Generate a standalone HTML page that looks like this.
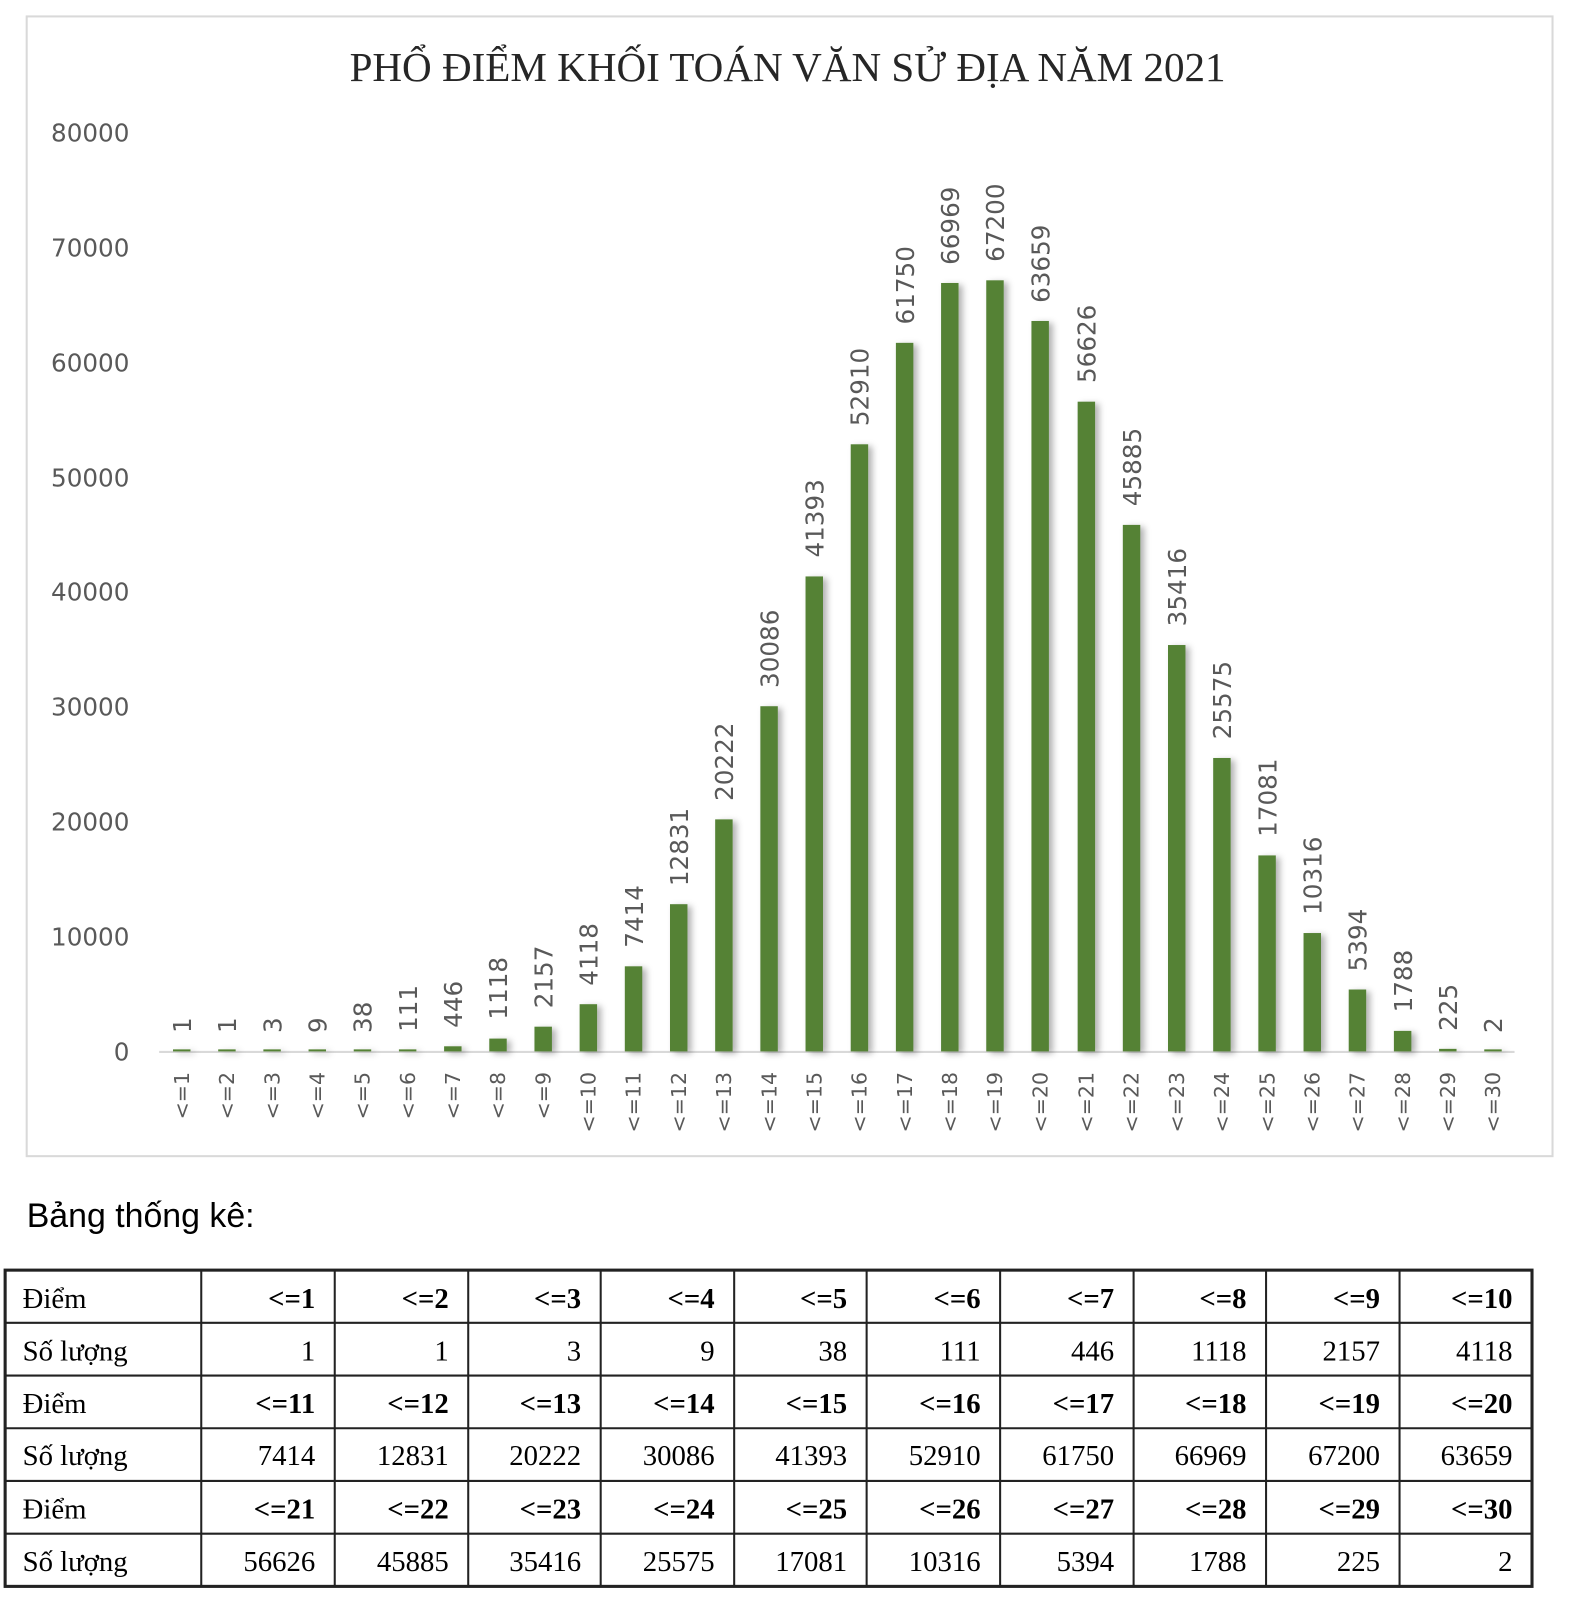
<!DOCTYPE html>
<html><head><meta charset="utf-8"><style>html,body{margin:0;padding:0;background:#fff}svg{display:block}</style></head>
<body>
<svg width="1570" height="1610" viewBox="0 0 1529 1568" preserveAspectRatio="none" xmlns="http://www.w3.org/2000/svg">
<defs><filter id="sh" x="-50%" y="-5%" width="200%" height="110%"><feDropShadow dx="4" dy="2" stdDeviation="3" flood-color="#000" flood-opacity="0.3"/></filter></defs>
<rect x="26" y="16" width="1486" height="1110" fill="#fff" stroke="#d9d9d9" stroke-width="2"/>
<text x="767" y="79" text-anchor="middle" font-family="Liberation Serif, serif" font-size="40" fill="#262626">PHỔ ĐIỂM KHỐI TOÁN VĂN SỬ ĐỊA NĂM 2021</text>
<g font-family="DejaVu Sans, sans-serif" font-size="24" fill="#595959" text-anchor="end">
<text x="126" y="138">80000</text><text x="126" y="250">70000</text><text x="126" y="362">60000</text><text x="126" y="474">50000</text><text x="126" y="585">40000</text><text x="126" y="697">30000</text><text x="126" y="809">20000</text><text x="126" y="921">10000</text><text x="126" y="1033">0</text>
</g>
<line x1="155" y1="1024.5" x2="1475" y2="1024.5" stroke="#d9d9d9" stroke-width="2"/>
<g fill="#548235" filter="url(#sh)">
<rect x="168.5" y="1022" width="17" height="2"/><rect x="212.5" y="1022" width="17" height="2"/><rect x="256.5" y="1022" width="17" height="2"/><rect x="300.5" y="1022" width="17" height="2"/><rect x="344.5" y="1022" width="17" height="2"/><rect x="388.5" y="1022" width="17" height="2"/>
<rect x="432.5" y="1019" width="17" height="5"/><rect x="476.5" y="1011.5" width="17" height="12.5"/><rect x="520.5" y="999.9" width="17" height="24.1"/><rect x="564.5" y="978" width="17" height="46"/><rect x="608.5" y="941.1" width="17" height="82.9"/><rect x="652.5" y="880.6" width="17" height="143.4"/><rect x="696.5" y="798" width="17" height="226"/><rect x="740.5" y="687.8" width="17" height="336.2"/><rect x="784.5" y="561.4" width="17" height="462.6"/><rect x="828.5" y="432.7" width="17" height="591.3"/><rect x="872.5" y="333.9" width="17" height="690.1"/><rect x="916.5" y="275.6" width="17" height="748.4"/><rect x="960.5" y="273" width="17" height="751"/><rect x="1004.5" y="312.6" width="17" height="711.4"/><rect x="1049.5" y="391.2" width="17" height="632.8"/><rect x="1093.5" y="511.2" width="17" height="512.8"/><rect x="1137.5" y="628.2" width="17" height="395.8"/><rect x="1181.5" y="738.2" width="17" height="285.8"/><rect x="1225.5" y="833.1" width="17" height="190.9"/><rect x="1269.5" y="908.7" width="17" height="115.3"/><rect x="1313.5" y="963.7" width="17" height="60.3"/><rect x="1357.5" y="1004" width="17" height="20"/><rect x="1401.5" y="1021.5" width="17" height="2.5"/><rect x="1445.5" y="1022" width="17" height="2"/>
</g>
<g font-family="DejaVu Sans, sans-serif" font-size="24" fill="#595959">
<text transform="translate(186,1006) rotate(-90)">1</text><text transform="translate(230,1006) rotate(-90)">1</text><text transform="translate(274,1006) rotate(-90)">3</text><text transform="translate(318,1006) rotate(-90)">9</text><text transform="translate(362,1006) rotate(-90)">38</text><text transform="translate(406,1005) rotate(-90)">111</text><text transform="translate(450,1001) rotate(-90)">446</text><text transform="translate(494,993) rotate(-90)">1118</text><text transform="translate(538,982) rotate(-90)">2157</text><text transform="translate(582,960) rotate(-90)">4118</text><text transform="translate(626,923) rotate(-90)">7414</text><text transform="translate(670,863) rotate(-90)">12831</text><text transform="translate(714,780) rotate(-90)">20222</text><text transform="translate(758,670) rotate(-90)">30086</text><text transform="translate(802,543) rotate(-90)">41393</text><text transform="translate(846,415) rotate(-90)">52910</text><text transform="translate(890,316) rotate(-90)">61750</text><text transform="translate(934,258) rotate(-90)">66969</text><text transform="translate(978,255) rotate(-90)">67200</text><text transform="translate(1022,295) rotate(-90)">63659</text><text transform="translate(1067,373) rotate(-90)">56626</text><text transform="translate(1111,493) rotate(-90)">45885</text><text transform="translate(1155,610) rotate(-90)">35416</text><text transform="translate(1199,720) rotate(-90)">25575</text><text transform="translate(1243,815) rotate(-90)">17081</text><text transform="translate(1287,891) rotate(-90)">10316</text><text transform="translate(1331,946) rotate(-90)">5394</text><text transform="translate(1375,986) rotate(-90)">1788</text><text transform="translate(1419,1004) rotate(-90)">225</text><text transform="translate(1463,1006) rotate(-90)">2</text>
</g>
<g font-family="DejaVu Sans, sans-serif" font-size="20" fill="#595959" text-anchor="end">
<text transform="translate(184,1044) rotate(-90)">&lt;=1</text><text transform="translate(228,1044) rotate(-90)">&lt;=2</text><text transform="translate(272,1044) rotate(-90)">&lt;=3</text><text transform="translate(316,1044) rotate(-90)">&lt;=4</text><text transform="translate(360,1044) rotate(-90)">&lt;=5</text><text transform="translate(404,1044) rotate(-90)">&lt;=6</text><text transform="translate(448,1044) rotate(-90)">&lt;=7</text><text transform="translate(492,1044) rotate(-90)">&lt;=8</text><text transform="translate(536,1044) rotate(-90)">&lt;=9</text><text transform="translate(580,1044) rotate(-90)">&lt;=10</text><text transform="translate(624,1044) rotate(-90)">&lt;=11</text><text transform="translate(668,1044) rotate(-90)">&lt;=12</text><text transform="translate(712,1044) rotate(-90)">&lt;=13</text><text transform="translate(756,1044) rotate(-90)">&lt;=14</text><text transform="translate(800,1044) rotate(-90)">&lt;=15</text><text transform="translate(844,1044) rotate(-90)">&lt;=16</text><text transform="translate(888,1044) rotate(-90)">&lt;=17</text><text transform="translate(932,1044) rotate(-90)">&lt;=18</text><text transform="translate(976,1044) rotate(-90)">&lt;=19</text><text transform="translate(1020,1044) rotate(-90)">&lt;=20</text><text transform="translate(1065,1044) rotate(-90)">&lt;=21</text><text transform="translate(1109,1044) rotate(-90)">&lt;=22</text><text transform="translate(1153,1044) rotate(-90)">&lt;=23</text><text transform="translate(1197,1044) rotate(-90)">&lt;=24</text><text transform="translate(1241,1044) rotate(-90)">&lt;=25</text><text transform="translate(1285,1044) rotate(-90)">&lt;=26</text><text transform="translate(1329,1044) rotate(-90)">&lt;=27</text><text transform="translate(1373,1044) rotate(-90)">&lt;=28</text><text transform="translate(1417,1044) rotate(-90)">&lt;=29</text><text transform="translate(1461,1044) rotate(-90)">&lt;=30</text>
</g>
<text x="26" y="1195" font-family="Liberation Sans, sans-serif" font-size="33" fill="#000">Bảng thống kê:</text>
<g stroke="#222" stroke-width="2" fill="none">
<rect x="5" y="1237" width="1487" height="308" stroke-width="3"/>
<line x1="5" y1="1288.3" x2="1492" y2="1288.3"/><line x1="5" y1="1339.7" x2="1492" y2="1339.7"/><line x1="5" y1="1391" x2="1492" y2="1391"/><line x1="5" y1="1442.3" x2="1492" y2="1442.3"/><line x1="5" y1="1493.7" x2="1492" y2="1493.7"/>
<line x1="196" y1="1237" x2="196" y2="1545"/><line x1="326" y1="1237" x2="326" y2="1545"/><line x1="456" y1="1237" x2="456" y2="1545"/><line x1="585" y1="1237" x2="585" y2="1545"/><line x1="715" y1="1237" x2="715" y2="1545"/><line x1="844" y1="1237" x2="844" y2="1545"/><line x1="974" y1="1237" x2="974" y2="1545"/><line x1="1104" y1="1237" x2="1104" y2="1545"/><line x1="1233" y1="1237" x2="1233" y2="1545"/><line x1="1363" y1="1237" x2="1363" y2="1545"/>
</g>
<g font-family="Liberation Serif, serif" font-size="28" fill="#000">
<text x="22" y="1274">Điểm</text><text x="22" y="1325">Số lượng</text><text x="22" y="1376">Điểm</text><text x="22" y="1427">Số lượng</text><text x="22" y="1479">Điểm</text><text x="22" y="1530">Số lượng</text>
</g>
<g font-family="Liberation Serif, serif" font-size="28" fill="#000" text-anchor="end" font-weight="bold">
<text x="307" y="1274">&lt;=1</text><text x="437" y="1274">&lt;=2</text><text x="566" y="1274">&lt;=3</text><text x="696" y="1274">&lt;=4</text><text x="825" y="1274">&lt;=5</text><text x="955" y="1274">&lt;=6</text><text x="1085" y="1274">&lt;=7</text><text x="1214" y="1274">&lt;=8</text><text x="1344" y="1274">&lt;=9</text><text x="1473" y="1274">&lt;=10</text>
<text x="307" y="1376">&lt;=11</text><text x="437" y="1376">&lt;=12</text><text x="566" y="1376">&lt;=13</text><text x="696" y="1376">&lt;=14</text><text x="825" y="1376">&lt;=15</text><text x="955" y="1376">&lt;=16</text><text x="1085" y="1376">&lt;=17</text><text x="1214" y="1376">&lt;=18</text><text x="1344" y="1376">&lt;=19</text><text x="1473" y="1376">&lt;=20</text>
<text x="307" y="1479">&lt;=21</text><text x="437" y="1479">&lt;=22</text><text x="566" y="1479">&lt;=23</text><text x="696" y="1479">&lt;=24</text><text x="825" y="1479">&lt;=25</text><text x="955" y="1479">&lt;=26</text><text x="1085" y="1479">&lt;=27</text><text x="1214" y="1479">&lt;=28</text><text x="1344" y="1479">&lt;=29</text><text x="1473" y="1479">&lt;=30</text>
</g>
<g font-family="Liberation Serif, serif" font-size="28" fill="#000" text-anchor="end">
<text x="307" y="1325">1</text><text x="437" y="1325">1</text><text x="566" y="1325">3</text><text x="696" y="1325">9</text><text x="825" y="1325">38</text><text x="955" y="1325">111</text><text x="1085" y="1325">446</text><text x="1214" y="1325">1118</text><text x="1344" y="1325">2157</text><text x="1473" y="1325">4118</text>
<text x="307" y="1427">7414</text><text x="437" y="1427">12831</text><text x="566" y="1427">20222</text><text x="696" y="1427">30086</text><text x="825" y="1427">41393</text><text x="955" y="1427">52910</text><text x="1085" y="1427">61750</text><text x="1214" y="1427">66969</text><text x="1344" y="1427">67200</text><text x="1473" y="1427">63659</text>
<text x="307" y="1530">56626</text><text x="437" y="1530">45885</text><text x="566" y="1530">35416</text><text x="696" y="1530">25575</text><text x="825" y="1530">17081</text><text x="955" y="1530">10316</text><text x="1085" y="1530">5394</text><text x="1214" y="1530">1788</text><text x="1344" y="1530">225</text><text x="1473" y="1530">2</text>
</g>
</svg>
</body></html>
